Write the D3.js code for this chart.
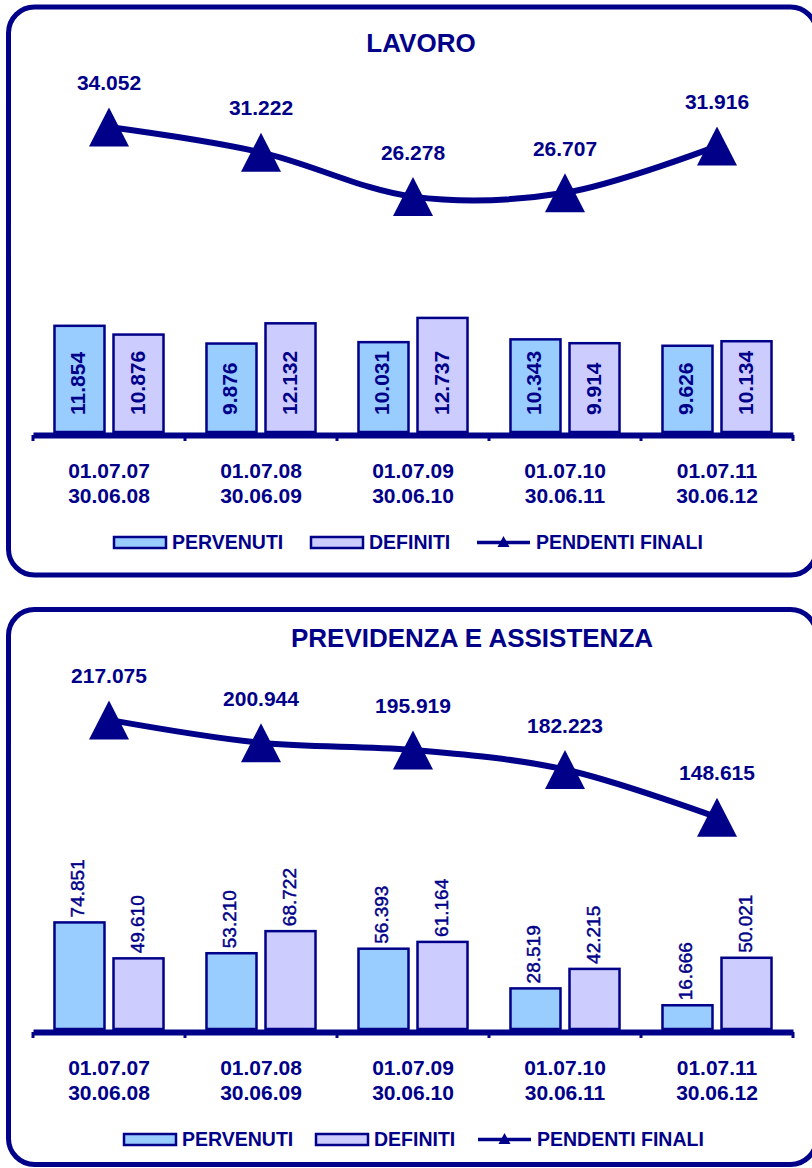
<!DOCTYPE html>
<html>
<head>
<meta charset="utf-8">
<script src="https://cdn.jsdelivr.net/npm/d3@7"></script>
<style>
  html, body { margin: 0; padding: 0; background: #ffffff; }
  svg { display: block; }
  text { font-family: "Liberation Sans", Arial, Helvetica, sans-serif; fill: #000088; }
</style>
</head>
<body>
<script>
// Periods (two-line category labels)
const periodi = [
  ["01.07.07", "30.06.08"],
  ["01.07.08", "30.06.09"],
  ["01.07.09", "30.06.10"],
  ["01.07.10", "30.06.11"],
  ["01.07.11", "30.06.12"]
];
const serie = ["PERVENUTI", "DEFINITI"];
const lineaNome = "PENDENTI FINALI";

// LAVORO
const lavoroPervenuti = [11854, 9876, 10031, 10343, 9626];
const lavoroDefiniti  = [10876, 12132, 12737, 9914, 10134];
const lavoroPendenti  = [34052, 31222, 26278, 26707, 31916];

// PREVIDENZA E ASSISTENZA
const prevPervenuti = [74851, 53210, 56393, 28519, 16666];
const prevDefiniti  = [49610, 68722, 61164, 42215, 50021];
const prevPendenti  = [217075, 200944, 195919, 182223, 148615];

const NAVY = "#000088";
const FILL_PERV = "#99CCFF";
const FILL_DEF = "#CCCCFF";

const itLocale = d3.formatLocale({ decimal: ",", thousands: ".", grouping: [3], currency: ["", ""] });
const fmt = itLocale.format(",d");

const W = 812, H = 1168;
const svg = d3.select("body").append("svg").attr("width", W).attr("height", H);

function drawPanel(cfg) {
  const g = svg.append("g");

  // rounded frame
  g.append("rect")
    .attr("x", 8.5).attr("y", cfg.top)
    .attr("width", 808).attr("height", cfg.height)
    .attr("rx", 26).attr("ry", 26)
    .attr("fill", "none").attr("stroke", NAVY).attr("stroke-width", 5);

  // title
  g.append("text")
    .attr("x", cfg.titleX).attr("y", cfg.titleY)
    .attr("text-anchor", "middle")
    .style("font-size", "26px").style("font-weight", "bold")
    .text(cfg.title);

  const labels = periodi.map(p => p.join(" "));
  const x = d3.scaleBand().domain(labels).range([33, 793]).paddingInner(0).paddingOuter(0);
  const x1 = d3.scaleBand().domain(serie).range([0, x.bandwidth()])
    .paddingInner(0.1525).paddingOuter(0.364);
  const y = d3.scaleLinear().domain([0, cfg.yMax]).range([cfg.base, cfg.base - cfg.yPix]);

  const rows = labels.map((c, i) => ({
    cat: c, periodo: periodi[i],
    vals: [
      { s: serie[0], v: cfg.perv[i], fill: FILL_PERV },
      { s: serie[1], v: cfg.def[i], fill: FILL_DEF }
    ],
    pend: cfg.pend[i]
  }));

  // bars
  const grp = g.selectAll("g.cat").data(rows).join("g")
    .attr("class", "cat")
    .attr("transform", d => `translate(${x(d.cat)},0)`);

  grp.selectAll("rect").data(d => d.vals).join("rect")
    .attr("x", d => x1(d.s))
    .attr("y", d => y(d.v))
    .attr("width", x1.bandwidth())
    .attr("height", d => y(0) - y(d.v))
    .attr("fill", d => d.fill)
    .attr("stroke", NAVY).attr("stroke-width", 2.5);

  // bar value labels (rotated)
  const vt = grp.selectAll("text.val").data(d => d.vals).join("text")
    .attr("class", "val")
    .attr("transform", d => {
      const cx = x1(d.s) + x1.bandwidth() / 2 + cfg.valDx;
      const ty = cfg.inside ? y(0) - 17 : y(d.v) - 5;
      return `translate(${cx},${ty}) rotate(-90)`;
    })
    .attr("text-anchor", "start")
    .style("font-size", cfg.inside ? "21px" : "19px")
    .style("font-weight", cfg.inside ? "bold" : "normal")
    .text(d => fmt(d.v));
  if (!cfg.inside) {
    vt.attr("stroke", NAVY).attr("stroke-width", 0.45);
  }

  // category axis
  const axisY = cfg.base + 3;
  const axis = g.append("g").attr("transform", `translate(0,${axisY})`)
    .call(d3.axisBottom(x).tickSize(0).tickSizeOuter(0).tickFormat(""));
  axis.select(".domain").attr("stroke", NAVY).attr("stroke-width", 6);
  const bounds = labels.map(c => x(c)).concat([x(labels[labels.length - 1]) + x.bandwidth()]);
  axis.selectAll("line.bound").data(bounds).join("line")
    .attr("class", "bound")
    .attr("x1", d => d).attr("x2", d => d)
    .attr("y1", 0).attr("y2", 6)
    .attr("stroke", NAVY).attr("stroke-width", 3);

  // category labels
  const cl = g.selectAll("text.cat").data(rows).join("text")
    .attr("class", "cat")
    .attr("text-anchor", "middle")
    .style("font-size", "21px").style("font-weight", "bold");
  cl.append("tspan")
    .attr("x", d => x(d.cat) + x.bandwidth() / 2).attr("y", cfg.base + 46)
    .text(d => d.periodo[0]);
  cl.append("tspan")
    .attr("x", d => x(d.cat) + x.bandwidth() / 2).attr("y", cfg.base + 71)
    .text(d => d.periodo[1]);

  // pending line
  const cx = d => x(d.cat) + x.bandwidth() / 2;
  const line = d3.line().x(cx).y(d => y(d.pend)).curve(d3.curveCatmullRom.alpha(0.5));
  g.append("path").datum(rows)
    .attr("d", line)
    .attr("fill", "none").attr("stroke", NAVY).attr("stroke-width", 6);

  const tri = "M0,-19.5 L20,19.5 L-20,19.5 Z";
  g.selectAll("path.mk").data(rows).join("path")
    .attr("class", "mk")
    .attr("transform", d => `translate(${cx(d)},${y(d.pend)})`)
    .attr("d", tri).attr("fill", NAVY);

  g.selectAll("text.pend").data(rows).join("text")
    .attr("class", "pend")
    .attr("x", cx).attr("y", d => y(d.pend) - 37)
    .attr("text-anchor", "middle")
    .style("font-size", "21px").style("font-weight", "bold")
    .text(d => fmt(d.pend));

  // legend
  const ly = cfg.legendY;
  const leg = g.append("g");
  const sw = [
    { x: cfg.legX[0], fill: FILL_PERV, name: serie[0] },
    { x: cfg.legX[1], fill: FILL_DEF, name: serie[1] }
  ];
  leg.selectAll("rect").data(sw).join("rect")
    .attr("x", d => d.x).attr("y", ly - 11)
    .attr("width", 52).attr("height", 11)
    .attr("fill", d => d.fill).attr("stroke", NAVY).attr("stroke-width", 2.5);
  leg.selectAll("text.sw").data(sw).join("text")
    .attr("class", "sw")
    .attr("x", d => d.x + 58).attr("y", ly + 1)
    .style("font-size", "19.5px").style("font-weight", "bold")
    .text(d => d.name);
  const lx = cfg.legX[2];
  leg.append("line")
    .attr("x1", lx).attr("x2", lx + 53)
    .attr("y1", ly - 5.5).attr("y2", ly - 5.5)
    .attr("stroke", NAVY).attr("stroke-width", 3.5);
  leg.append("path")
    .attr("transform", `translate(${lx + 26.5},${ly - 6})`)
    .attr("d", "M0,-6 L6,5 L-6,5 Z").attr("fill", NAVY);
  leg.append("text")
    .attr("x", lx + 59).attr("y", ly + 1)
    .style("font-size", "19.5px").style("font-weight", "bold")
    .text(lineaNome);
}

drawPanel({
  title: "LAVORO", titleX: 421, titleY: 52,
  top: 7, height: 568,
  base: 432, yMax: 40000, yPix: 358.3,
  perv: lavoroPervenuti, def: lavoroDefiniti, pend: lavoroPendenti,
  inside: true, valDx: 6,
  legendY: 548, legX: [114, 311, 477]
});

drawPanel({
  title: "PREVIDENZA E ASSISTENZA", titleX: 472, titleY: 647,
  top: 609.5, height: 555,
  base: 1029, yMax: 250000, yPix: 356,
  perv: prevPervenuti, def: prevDefiniti, pend: prevPendenti,
  inside: false, valDx: 5,
  legendY: 1145, legX: [124, 316, 478]
});
</script>
</body>
</html>
